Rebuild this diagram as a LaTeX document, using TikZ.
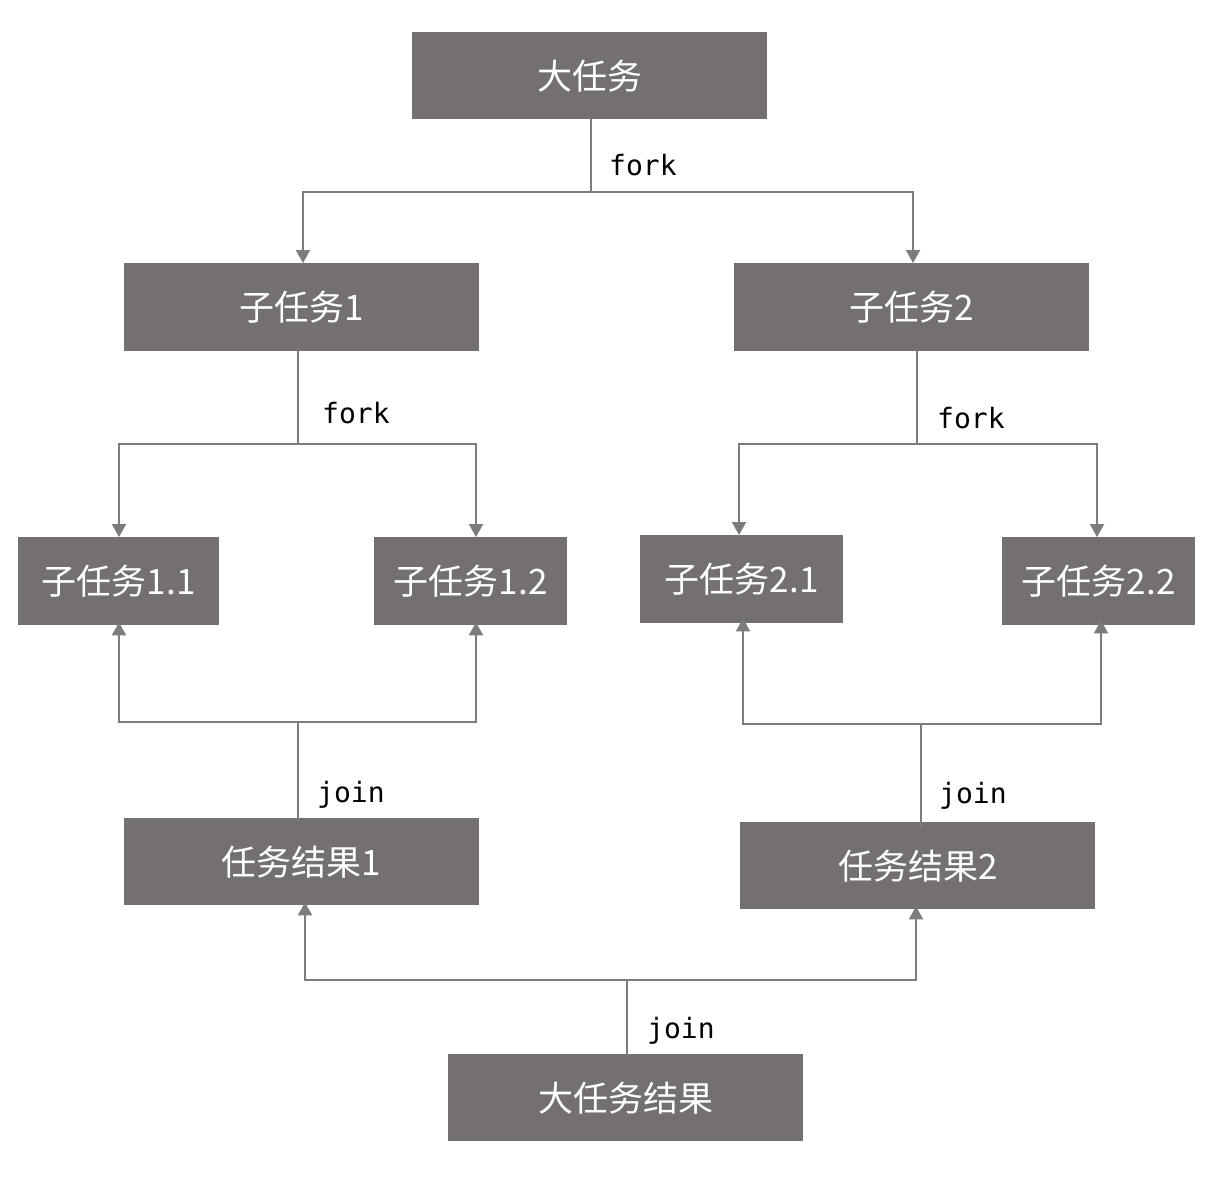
\documentclass[tikz,border=0pt]{standalone}
\usepackage{fontspec}
\newfontfamily\cjk{Noto Sans CJK SC}
\newfontfamily\lbl{DejaVu Sans Mono}
\usetikzlibrary{arrows.meta}
\definecolor{boxgray}{HTML}{747070}
\definecolor{linegray}{HTML}{7C7C7C}
\begin{document}
\begin{tikzpicture}[x=1pt,y=-1pt,
  box/.style={fill=boxgray, draw=none, text=white, font=\cjk\fontsize{35}{40}\selectfont, inner sep=0pt, anchor=north west},
  conn/.style={draw=linegray, line width=2pt},
  arr/.style={conn, -{Triangle[length=13pt,width=14pt]}},
  lab/.style={font=\lbl\fontsize{28}{32}\selectfont, text=black, inner sep=0pt}]
\useasboundingbox (0,0) rectangle (1230,1194);
\fill[white] (0,0) rectangle (1230,1194);
% boxes
\node[box, minimum width=355pt, minimum height=87pt] (big) at (412,32) {大任务};
\node[box, minimum width=355pt, minimum height=88pt] (s1) at (124,263) {子任务1};
\node[box, minimum width=355pt, minimum height=88pt] (s2) at (734,263) {子任务2};
\node[box, minimum width=201pt, minimum height=88pt] (s11) at (18,537) {子任务1.1};
\node[box, minimum width=193pt, minimum height=88pt] (s12) at (374,537) {子任务1.2};
\node[box, minimum width=203pt, minimum height=88pt] (s21) at (640,535) {子任务2.1};
\node[box, minimum width=193pt, minimum height=88pt] (s22) at (1002,537) {子任务2.2};
\node[box, minimum width=355pt, minimum height=87pt] (r1) at (124,818) {任务结果1};
\node[box, minimum width=355pt, minimum height=87pt] (r2) at (740,822) {任务结果2};
\node[box, minimum width=355pt, minimum height=87pt] (big r) at (448,1054) {大任务结果};
% coordinates
\coordinate (f0) at (591,192);
\coordinate (f1) at (298,444);
\coordinate (f2) at (917,444);
\coordinate (j1) at (298,722);
\coordinate (j2) at (921,724);
\coordinate (j0) at (627,980);
% fork big
\draw[conn] (big.south -| f0) -- (f0);
\draw[arr] (f0) -| (s1.north -| 303,0);
\draw[arr] (f0) -| (s2.north -| 913,0);
\node[lab, anchor=west] (lf0) at (609,165) {fork};
% fork s1
\draw[conn] (s1.south -| f1) -- (f1);
\draw[arr] (f1) -| (s11.north -| 119,0);
\draw[arr] (f1) -| (s12.north -| 476,0);
\node[lab, anchor=west] (lf1) at (322,413) {fork};
% fork s2
\draw[conn] (s2.south -| f2) -- (f2);
\draw[arr] (f2) -| (s21.north -| 739,0);
\draw[arr] (f2) -| (s22.north -| 1097,0);
\node[lab, anchor=west] (lf2) at (937,418) {fork};
% join r1
\draw[conn] ([yshift=-3pt]r1.north -| j1) -- (j1);
\draw[arr] (j1) -| ([yshift=3pt]s11.south -| 119,0);
\draw[arr] (j1) -| ([yshift=3pt]s12.south -| 476,0);
\node[lab, anchor=west] (lj1) at (317,795) {join};
% join r2
\draw[conn] ([yshift=-5pt]r2.north -| j2) -- (j2);
\draw[arr] (j2) -| ([yshift=5pt]s21.south -| 743,0);
\draw[arr] (j2) -| ([yshift=5pt]s22.south -| 1101,0);
\node[lab, anchor=west] (lj2) at (939,796) {join};
% join big
\draw[conn] ([yshift=-3pt]big r.north -| j0) -- (j0);
\draw[arr] (j0) -| ([yshift=3pt]r1.south -| 305,0);
\draw[arr] (j0) -| ([yshift=3pt]r2.south -| 916,0);
\node[lab, anchor=west] (lj0) at (647,1031) {join};
\end{tikzpicture}
\end{document}
